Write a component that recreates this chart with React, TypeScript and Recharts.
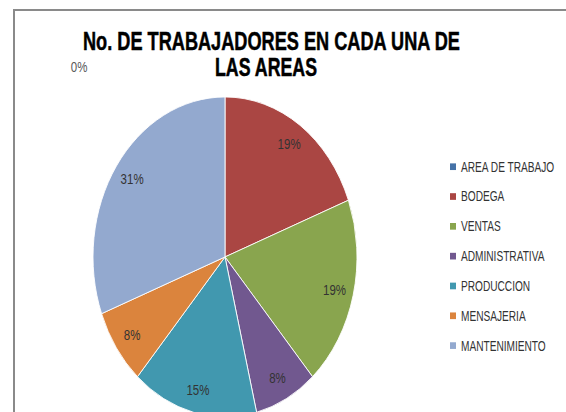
import React from 'react';
import { PieChart, Pie, Cell, Legend } from 'recharts';

const categories = ['AREA DE TRABAJO', 'BODEGA', 'VENTAS', 'ADMINISTRATIVA', 'PRODUCCION', 'MENSAJERIA', 'MANTENIMIENTO'];
const workers = [0, 5, 5, 2, 4, 2, 8];
const colors = ['#4572A7', '#AA4643', '#89A54E', '#71588F', '#4198AF', '#DB843D', '#93A9CF'];
const titleLines = ['No. DE TRABAJADORES EN CADA UNA DE', 'LAS AREAS'];

const data = categories.map((name, i) => ({ name, value: workers[i] }));

const SY = 1.212;
const W = 566;
const H = 412;
const RADIAN = Math.PI / 180;

const renderLabel = (props: any) => {
  const { cx, cy, midAngle, outerRadius, percent, value } = props;
  let ang = midAngle;
  let r = outerRadius * 0.855;
  let fill = '#333333';
  if (value === 0) {
    ang = midAngle + 43;
    r = outerRadius * 1.62;
    fill = '#595959';
  }
  const x = cx + r * Math.cos(-ang * RADIAN);
  const y = cy + r * Math.sin(-ang * RADIAN);
  return (
    <text x={x} y={y} fill={fill} fontSize={11.5} fontFamily="Liberation Sans, Arial, sans-serif" textAnchor="middle" dominantBaseline="central">
      {`${Math.round(percent * 100)}%`}
    </text>
  );
};

const LEG_SX = 0.845;
const renderLegend = () => {
  return (
    <svg width={130} height={190} style={{ display: 'block', overflow: 'visible' }}>
      {categories.map((name, i) => {
        const cyRow = 12.8 + i * 24.6;
        return (
          <g key={name}>
            <rect x={5} y={cyRow - 3} width={6} height={5.5} fill={colors[i]} />
            <text
              x={16 / LEG_SX}
              y={cyRow}
              transform={`scale(${LEG_SX} 1)`}
              fontSize={12}
              fill="#333333"
              fontFamily="Liberation Sans, Arial, sans-serif"
              dominantBaseline="central"
            >
              {name}
            </text>
          </g>
        );
      })}
    </svg>
  );
};

export default function App() {
  return (
    <div style={{ position: 'absolute', left: 0, top: 0, width: W, height: H, overflow: 'hidden', background: '#fff' }}>
      <div style={{ position: 'absolute', left: 13, top: 9, width: 600, height: 500, borderTop: '2px solid #8a8a8a', borderLeft: '2px solid #8a8a8a', boxSizing: 'border-box' }} />
      <div style={{ position: 'absolute', left: 0, top: 0, width: W, height: H / SY, transform: `scaleY(${SY})`, transformOrigin: '0 0' }}>
        <PieChart width={W} height={Math.round(H / SY)} margin={{ top: 0, right: 0, bottom: 0, left: 0 }}>
          <Pie
            data={data}
            dataKey="value"
            nameKey="name"
            cx={225}
            cy={212}
            outerRadius={132}
            startAngle={90}
            endAngle={-270}
            stroke="#ffffff"
            strokeWidth={0.8}
            label={renderLabel}
            labelLine={false}
            isAnimationActive={false}
          >
            {data.map((d, i) => (
              <Cell key={d.name} fill={colors[i]} />
            ))}
          </Pie>
          <Legend content={renderLegend} wrapperStyle={{ position: 'absolute', left: 445, top: 125, width: 130, height: 190 }} />
        </PieChart>
        <svg width={W} height={H / SY} style={{ position: 'absolute', left: 0, top: 0, pointerEvents: 'none' }}>
          <text x={271.5} y={41.3} textAnchor="middle" fontSize={20.7} fontWeight="bold" fontFamily="Liberation Sans, Arial, sans-serif" fill="#000" stroke="#000" strokeWidth={0.4} textLength={377} lengthAdjust="spacingAndGlyphs">
            {titleLines[0]}
          </text>
          <text x={266} y={62.7} textAnchor="middle" fontSize={20.7} fontWeight="bold" fontFamily="Liberation Sans, Arial, sans-serif" fill="#000" stroke="#000" strokeWidth={0.4} textLength={102} lengthAdjust="spacingAndGlyphs">
            {titleLines[1]}
          </text>
        </svg>
      </div>
    </div>
  );
}
